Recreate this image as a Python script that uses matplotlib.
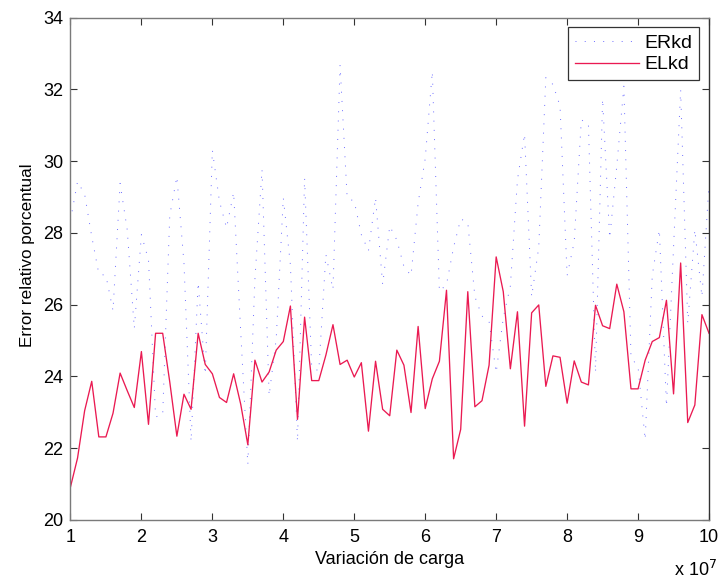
import numpy as np
import matplotlib
matplotlib.use("Agg")
from matplotlib import pyplot as plt
from matplotlib.ticker import FuncFormatter

# load steps 1e7 .. 1e8, step 1e6
carga = np.arange(10, 101) * 1e6

erkd = [28.35, 29.43, 29.08, 27.9, 26.86, 26.81, 25.83, 29.38, 28.09, 25.33,
        27.95, 27.25, 22.87, 22.92, 28.49, 29.57, 27.16, 22.18, 26.62, 24.05,
        30.31, 28.88, 28.14, 29.13, 25.23, 21.54, 26.71, 29.77, 23.46, 25.04,
        28.98, 27.11, 22.18, 29.53, 24.25, 24.15, 27.4, 26.42, 32.68, 28.98,
        28.88, 27.95, 27.5, 28.98, 26.56, 28.19, 27.8, 27.06, 26.81, 28.83,
        30.07, 32.5, 26.37, 26.56, 27.6, 28.39, 28.29, 26.22, 25.68, 25.53,
        24.1, 25.63, 26.52, 29.48, 30.76, 26.22, 27.6, 32.33, 32.14, 31.54,
        26.81, 27.75, 31.15, 31.05, 24.1, 31.74, 27.85, 29.87, 32.09, 24.54,
        24.25, 22.23, 26.81, 28.09, 23.16, 27.6, 31.99, 25.48, 28.09, 26.22,
        29.37]

elkd = [20.91, 21.72, 23.04, 23.86, 22.31, 22.31, 22.97, 24.09, 23.6, 23.13,
        24.69, 22.66, 25.2, 25.2, 23.84, 22.33, 23.5, 23.08, 25.2, 24.33,
        24.07, 23.41, 23.27, 24.07, 23.22, 22.09, 24.45, 23.84, 24.12, 24.73,
        24.97, 25.96, 22.8, 25.65, 23.88, 23.88, 24.59, 25.44, 24.33, 24.45,
        23.98, 24.38, 22.47, 24.42, 23.08, 22.9, 24.73, 24.31, 22.99, 25.39,
        23.1, 23.93, 24.42, 26.4, 21.7, 22.52, 26.36, 23.15, 23.32, 24.31,
        27.33, 26.36, 24.21, 25.8, 22.61, 25.77, 25.99, 23.72, 24.57, 24.53,
        23.25, 24.43, 23.84, 23.76, 25.98, 25.41, 25.33, 26.57, 25.8, 23.65,
        23.65, 24.45, 24.97, 25.08, 26.12, 23.51, 27.16, 22.71, 23.2, 25.72,
        25.2]

plt.rcParams['font.family'] = ['Liberation Sans', 'DejaVu Sans']

fig = plt.figure(figsize=(7.21, 5.82), dpi=100)
ax = fig.add_axes([0.0977, 0.107, 0.8857, 0.8625])

ax.plot(carga, erkd, color='#4a4aff', lw=0.7, alpha=0.8,
        linestyle=(0, (1, 8.5)), label='ERkd')
ax.plot(carga, elkd, color='#ea1a52', lw=0.95, label='ELkd')

ax.set_xlim(1e7, 1e8)
ax.set_ylim(20, 34)
ax.set_xticks(np.arange(1, 11) * 1e7)
ax.set_yticks(np.arange(20, 35, 2))
ax.xaxis.set_major_formatter(FuncFormatter(lambda v, p: f"{v / 1e7:g}"))
ax.tick_params(direction='in', length=5, width=0.8, color='#333333',
               labelsize=13, top=True, right=True)
ax.tick_params(axis='x', pad=6.5)
ax.tick_params(axis='y', pad=5)

for side in ['left', 'bottom', 'top']:
    ax.spines[side].set_color('#7a7a7a')
ax.spines['right'].set_color('#333333')
for s in ax.spines.values():
    s.set_linewidth(1.0)

ax.set_xlabel('Variación de carga', fontsize=13)
ax.xaxis.set_label_coords(0.5, -0.063)
ax.set_ylabel('Error relativo porcentual', fontsize=12.3)
ax.yaxis.set_label_coords(-0.056, 0.527)
fig.text(717 / 721, 1 - 576 / 582, 'x 10$^7$', ha='right', va='baseline',
         fontsize=13)

leg = ax.legend(loc='upper right', fontsize=14, fancybox=False, framealpha=1,
                edgecolor='#333333', handlelength=3.3, handletextpad=0.3,
                borderpad=0.35, labelspacing=0.2, borderaxespad=0.5)
leg.get_frame().set_linewidth(0.9)

fig.savefig('out.png', dpi=100)
